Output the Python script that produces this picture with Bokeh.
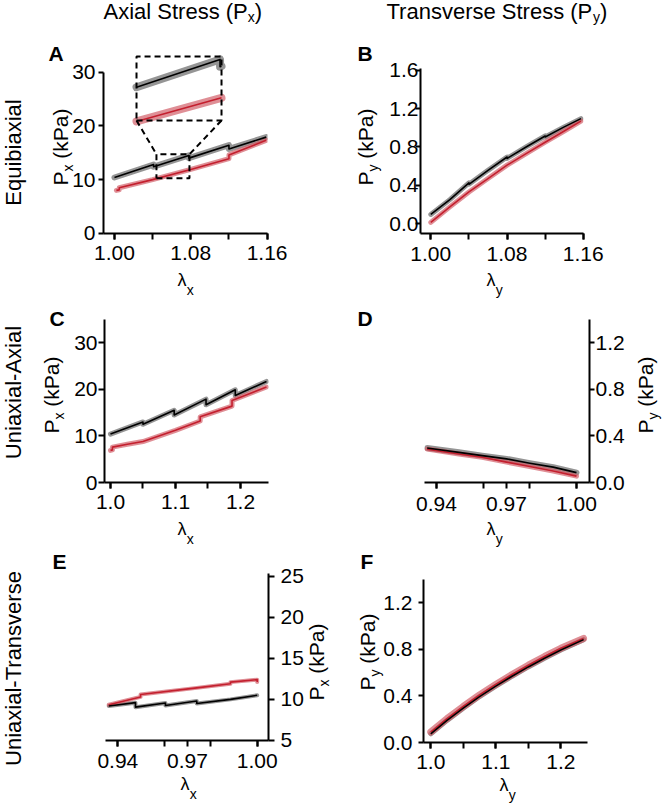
import numpy as np
from bokeh.plotting import figure
from bokeh.models import Label, FixedTicker, NumeralTickFormatter, Range1d, GridBox
from bokeh.embed import file_html
from bokeh.resources import INLINE

FONT = "Liberation Sans"

# ---------------- data ----------------
# Panel A: Equibiaxial, axial stress Px vs lambda_x
A_black_lam = [1.000, 1.041, 1.041, 1.078, 1.078, 1.120, 1.120, 1.159]
A_black_P = [10.4, 12.8, 12.4, 14.5, 14.0, 16.4, 15.7, 17.9]
A_red_lam = [1.002, 1.005, 1.005, 1.040, 1.080, 1.120, 1.120, 1.159]
A_red_P = [8.0, 8.1, 8.5, 10.0, 11.9, 13.9, 14.6, 17.3]

# Panel B: Equibiaxial, transverse stress Py vs lambda_y
B_black_lam = [1.000, 1.020, 1.040, 1.040, 1.060, 1.080, 1.080, 1.100, 1.120, 1.120, 1.140, 1.1575]
B_black_P = [0.095, 0.25, 0.425, 0.41, 0.556, 0.695, 0.68, 0.80, 0.915, 0.905, 1.01, 1.096]
B_red_lam = [1.000, 1.020, 1.040, 1.060, 1.080, 1.100, 1.120, 1.140, 1.1575]
B_red_P = [0.012, 0.174, 0.33, 0.47, 0.61, 0.73, 0.85, 0.967, 1.07]

# Panel C: Uniaxial-Axial, Px vs lambda_x
C_black_lam = [1.000, 1.050, 1.050, 1.098, 1.098, 1.147, 1.147, 1.192, 1.192, 1.240]
C_black_P = [10.4, 13.0, 12.5, 15.5, 14.5, 17.9, 16.7, 19.9, 18.7, 21.7]
C_red_lam = [1.000, 1.003, 1.003, 1.026, 1.050, 1.100, 1.138, 1.138, 1.187, 1.187, 1.240]
C_red_P = [6.9, 7.0, 7.6, 8.2, 8.8, 11.2, 13.2, 14.1, 16.4, 17.6, 20.5]

# Panel D: Uniaxial-Axial, Py vs lambda_y
D_lam = [0.936, 0.9496, 0.9596, 0.970, 0.980, 0.990, 1.000]
D_black_P = [0.296, 0.259, 0.231, 0.203, 0.166, 0.132, 0.085]
D_red_P = [0.287, 0.245, 0.217, 0.175, 0.138, 0.099, 0.055]

# Panel E: Uniaxial-Transverse, Px vs lambda_x
E_black_lam = [0.9361, 0.9476, 0.9476, 0.9605, 0.9605, 0.974, 0.974, 0.9885, 1.000]
E_black_P = [9.2, 9.6, 9.05, 9.55, 9.25, 9.8, 9.5, 10.0, 10.5]
E_red_lam = [0.9361, 0.9498, 0.9498, 0.974, 0.9885, 0.9885, 1.000, 1.000]
E_red_P = [9.35, 10.3, 10.6, 11.4, 11.9, 12.1, 12.4, 12.1]

# Panel F: Uniaxial-Transverse, Py vs lambda_y
F_lam = [1.000, 1.025, 1.050, 1.075, 1.100, 1.125, 1.150, 1.175, 1.200, 1.235]
F_black_P = [0.075, 0.19, 0.295, 0.395, 0.485, 0.57, 0.65, 0.725, 0.795, 0.885]
F_red_P = [0.09, 0.205, 0.31, 0.41, 0.50, 0.585, 0.665, 0.74, 0.81, 0.895]

# tick values
A_xticks = [1.00, 1.08, 1.16]
A_xminor = [1.00, 1.04, 1.08, 1.12, 1.16]
C_xticks = [1.0, 1.1, 1.2]
C_xminor = [1.0, 1.05, 1.1, 1.15, 1.2]
D_xticks = [0.94, 0.97, 1.00]
D_xminor = [0.94, 0.96, 0.98, 1.00]
Px_ticks = [0, 10, 20, 30]
Px_ticks_E = [5, 10, 15, 20, 25]
Py_ticks_B = [0.0, 0.4, 0.8, 1.2, 1.6]
Py_ticks = [0.0, 0.4, 0.8, 1.2]

# texts
COL_TITLES = [("Axial Stress (P", "x"), ("Transverse Stress (P", "y")]
ROW_TITLES = ["Equibiaxial", "Uniaxial-Axial", "Uniaxial-Transverse"]
LETTERS = ["A", "B", "C", "D", "E", "F"]

# inset zoom window (data coords in panel A) and inset location
ZOOM = (1.0440, 1.0786, 10.26, 14.71)
INSET = (1.0231, 1.1122, 21.0, 32.9)

# ---------------- style ----------------
BLACK = "#000000"
GRAY_BAND = "#7a7a7a"
RED = "#c41f2e"
RED_BAND = "#d2606a"
W, H = 664, 806
TICK_FS = "21px"

WID = {'A': .667, 'B': .667, 'C': .722, 'D': .722, 'E': .667, 'F': .611, 'P': .667,
       'S': .667, 'T': .611, 'U': .722, 'a': .556, 'b': .556, 'e': .556, 'i': .222,
       'k': .5, 'l': .222, 'n': .556, 'q': .556, 'r': .333, 's': .5, 't': .278,
       'u': .556, 'v': .5, 'x': .5, 'y': .5, ' ': .278, '(': .333, ')': .333,
       '-': .333, 'λ': .52}


def tw(s, size):
    return sum(WID.get(c, .556) for c in s) * size


def make_fig(w, h, L, R, T, B, xr, yr, yloc="left"):
    p = figure(width=w, height=h, x_range=Range1d(*xr), y_range=Range1d(*yr),
               output_backend="svg", toolbar_location=None, y_axis_location=yloc,
               min_border_left=L, min_border_right=R, min_border_top=T,
               min_border_bottom=B, frame_align=False)
    p.xgrid.visible = False
    p.ygrid.visible = False
    p.outline_line_color = None
    p.background_fill_color = "white"
    p.border_fill_color = "white"
    return p


def style_axis(ax, ticks, minor, fmt, tick_out, standoff, bounds=None):
    ax.ticker = FixedTicker(ticks=ticks, minor_ticks=minor)
    ax.formatter = NumeralTickFormatter(format=fmt)
    ax.axis_line_width = 2
    ax.axis_line_color = "black"
    ax.major_tick_line_width = 2
    ax.major_tick_line_color = "black"
    ax.major_tick_out = tick_out
    ax.major_tick_in = 0
    ax.minor_tick_line_width = 2
    ax.minor_tick_line_color = "black"
    ax.minor_tick_out = tick_out
    ax.minor_tick_in = 0
    ax.major_label_text_font = FONT
    ax.major_label_text_font_size = TICK_FS
    ax.major_label_text_color = "black"
    ax.major_label_standoff = standoff
    if bounds is not None:
        ax.bounds = bounds


def draw_pair(p, bx, by, rx, ry, bw=5, rw=5):
    p.line(bx, by, line_color=GRAY_BAND, line_width=bw, line_alpha=0.8,
           line_join="round", line_cap="round")
    p.line(rx, ry, line_color=RED_BAND, line_width=rw, line_alpha=0.7,
           line_join="round", line_cap="round")
    p.line(rx, ry, line_color=RED, line_width=1.6, line_join="round")
    p.line(bx, by, line_color=BLACK, line_width=1.6, line_join="round")


def clip_map(xs, ys, zoom, inset):
    x0, x1, y0, y1 = zoom
    X0, X1, Y0, Y1 = inset
    xs = np.asarray(xs, float)
    ys = np.asarray(ys, float)
    keep = (xs > x0) & (xs < x1)
    cx = np.concatenate([[x0], xs[keep], [x1]])
    cy = np.concatenate([[np.interp(x0, xs, ys)], ys[keep], [np.interp(x1, xs, ys)]])
    mx = X0 + (cx - x0) / (x1 - x0) * (X1 - X0)
    my = Y0 + (cy - y0) / (y1 - y0) * (Y1 - Y0)
    return mx, my


# ---------------- text overlay (page coordinates) ----------------
ov = figure(width=W, height=H, x_range=Range1d(0, W), y_range=Range1d(0, H),
            output_backend="svg", toolbar_location=None, x_axis_location=None,
            y_axis_location=None, min_border=0, frame_align=False)
ov.xgrid.visible = False
ov.ygrid.visible = False
ov.outline_line_color = None
ov.background_fill_alpha = 0
ov.border_fill_alpha = 0

MID = 0.3465  # distance baseline -> middle of the font box, in em


def add_text(px, py, parts, angle=0.0, bold=False, align="left"):
    """px, py: start of the baseline (page pixels). parts: (text, size, shift, gap)."""
    adv = 0.0
    for text, size, shift, gap in parts:
        adv += gap * size
        if angle == 0:
            x, y = px + adv, py + shift - MID * size
        else:
            x, y = px + shift - MID * size, py - adv
        ov.add_layout(Label(x=x, y=H - y, text=text, angle=angle, text_font=FONT,
                            text_font_size=f"{size}px", text_align=align,
                            text_baseline="middle", text_color="black",
                            text_font_style="bold" if bold else "normal"))
        adv += tw(text, size)


SUB = 14
LAM = 18
YL = 21
TT = 22
ROT = np.pi / 2

# column titles
for (main, sub), x0 in zip(COL_TITLES, [103, 386]):
    add_text(x0, 18.5, [(main, TT, 0, 0), (sub, SUB, 3, 0), (")", TT, 0, 0)])
# row titles
for t, (bx, cy) in zip(ROW_TITLES, [(21, 152), (21, 392), (21, 668)]):
    add_text(bx, cy, [(t, 22, 0, 0)], angle=ROT, align="center")
# panel letters
for t, (lx, ly) in zip(LETTERS, [(48, 60), (357, 60), (49, 325), (357, 325), (52, 568), (360, 568)]):
    add_text(lx, ly, [(t, 21, 0, 0)], bold=True)
# x-axis labels
for s, (lx, ly) in zip("xyxyxy", [(177, 286), (486, 286), (177, 535), (486, 535), (180, 790), (499, 791)]):
    add_text(lx, ly, [("λ", LAM, 0, 0), (s, SUB, 8, 0)])
# y-axis labels
for s, (lx, ly) in zip("xyxyxy", [(67, 185), (372, 185), (58, 433), (652, 433), (323, 700), (374, 690)]):
    add_text(lx, ly, [("P", YL, 0, 0), (s, SUB, 5, 0), ("(kPa)", YL, 0, 0.278)], angle=ROT)

# ---------------- Panel A ----------------
pA = make_fig(332, 290, 103, 65, 50, 57, (0.9885, 1.1604), (-0.01, 34.0))
style_axis(pA.xaxis[0], A_xticks, A_xminor, "0.00", 6, 6)
style_axis(pA.yaxis[0], Px_ticks, [], "0", 5, 3, bounds=(0, 30))
draw_pair(pA, A_black_lam, A_black_P, A_red_lam, A_red_P, bw=6, rw=5)
zx0, zx1, zy0, zy1 = ZOOM
ix0, ix1, iy0, iy1 = INSET
bx, by = clip_map(A_black_lam, A_black_P, ZOOM, INSET)
rx, ry = clip_map(A_red_lam, A_red_P, ZOOM, INSET)
draw_pair(pA, bx, by, rx, ry, bw=8, rw=8)
dash = dict(line_color="black", line_width=2, line_dash="6 4")
pA.line([zx0, zx1, zx1, zx0, zx0], [zy0, zy0, zy1, zy1, zy0], **dash)
pA.line([ix0, ix1, ix1, ix0, ix0], [iy0, iy0, iy1, iy1, iy0], **dash)
pA.line([ix0, zx0], [iy0, zy1], **dash)
pA.line([ix1, zx1], [iy0, zy1], **dash)

# ---------------- Panel B ----------------
pB = make_fig(332, 290, 88, 81, 68, 57, (0.9892, 1.1602), (-0.104, 1.62))
style_axis(pB.xaxis[0], A_xticks, A_xminor, "0.00", 6, 7)
style_axis(pB.yaxis[0], Py_ticks_B, [], "0.0", 5, -3)
draw_pair(pB, B_black_lam, B_black_P, B_red_lam, B_red_P)

# ---------------- Panel C ----------------
pC = make_fig(332, 250, 104, 64, 29, 58, (0.9908, 1.2431), (0, 35))
style_axis(pC.xaxis[0], C_xticks, C_xminor, "0.0", 6, 6)
style_axis(pC.yaxis[0], Px_ticks, [], "0", 6, 1)
draw_pair(pC, C_black_lam, C_black_P, C_red_lam, C_red_P)

# ---------------- Panel D ----------------
pD = make_fig(332, 250, 92, 75, 29, 58, (0.93486, 1.00557), (0, 1.4), yloc="right")
style_axis(pD.xaxis[0], D_xticks, D_xminor, "0.00", 6, 8)
style_axis(pD.yaxis[0], Py_ticks, [], "0.0", 5, 1)
draw_pair(pD, D_lam, D_black_P, D_lam, D_red_P, bw=6, rw=5)

# ---------------- Panel E ----------------
pE = make_fig(332, 266, 105, 64, 33, 66, (0.9347, 1.00487), (4.99, 25.33), yloc="right")
style_axis(pE.xaxis[0], D_xticks, D_xminor, "0.00", 6, 7)
style_axis(pE.yaxis[0], Px_ticks_E, [], "0", 6, 6)
draw_pair(pE, E_black_lam, E_black_P, E_red_lam, E_red_P, bw=4, rw=4)

# ---------------- Panel F ----------------
pF = make_fig(332, 266, 91, 77, 39, 64, (0.9888, 1.241), (0, 1.402))
style_axis(pF.xaxis[0], C_xticks, C_xminor, "0.0", 6, 6)
style_axis(pF.yaxis[0], Py_ticks, [], "0.0", 5, 6)
draw_pair(pF, F_lam, F_black_P, F_lam, F_red_P, bw=5, rw=7)

grid = GridBox(children=[(pA, 0, 0), (pB, 0, 1), (pC, 1, 0), (pD, 1, 1),
                         (pE, 2, 0), (pF, 2, 1), (ov, 0, 0, 3, 2)])
open("out.html", "w").write(file_html(grid, INLINE, "Stress"))
